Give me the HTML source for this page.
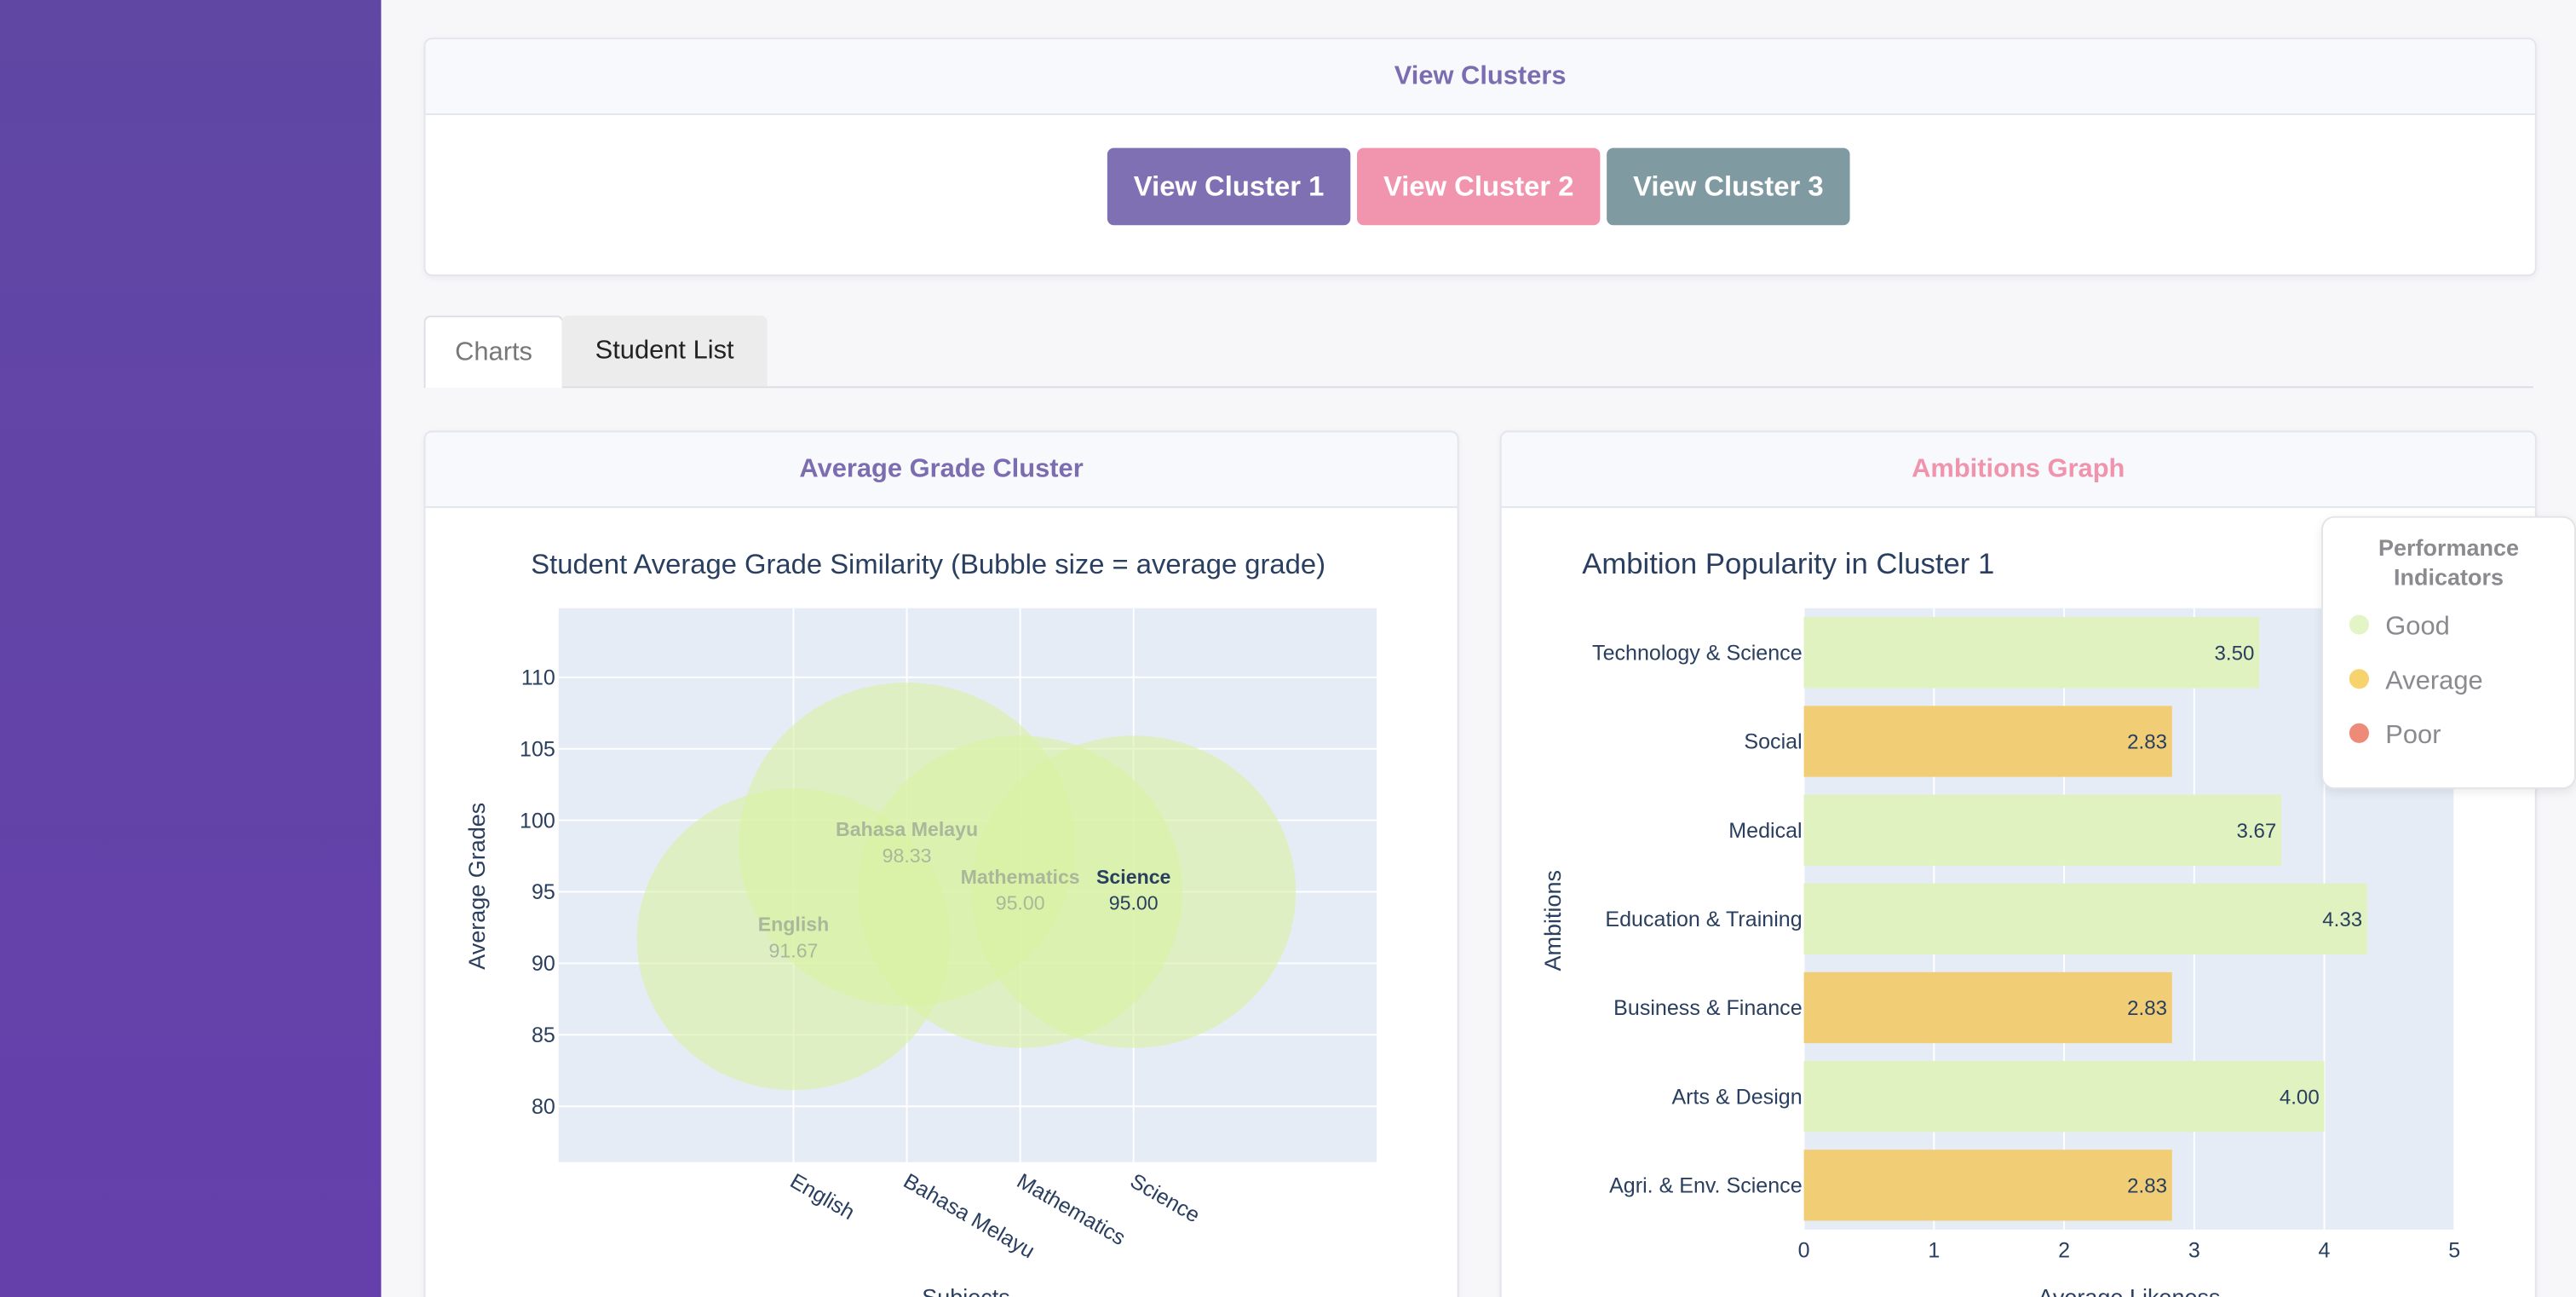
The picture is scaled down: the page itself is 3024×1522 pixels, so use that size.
<!DOCTYPE html>
<html><head><meta charset="utf-8">
<style>
html,body{margin:0;padding:0;}
body{width:3024px;height:1522px;overflow:hidden;background:#f6f6f8;font-family:"Liberation Sans",sans-serif;}
#root{position:absolute;left:0;top:0;width:1568px;height:789px;transform:scale(1.928571,1.929024);transform-origin:0 0;overflow:hidden;background:#f7f7f9;}
.abs{position:absolute;}
.card{position:absolute;background:#fff;border:1px solid #e3e5ec;border-radius:5px;box-shadow:0 1px 4px rgba(0,0,0,0.05);overflow:hidden;}
.chead{position:absolute;left:0;top:0;right:0;height:45px;background:#f8f9fc;border-bottom:1px solid #e3e5ec;text-align:center;line-height:45px;font-weight:bold;font-size:16px;}
.btn{position:absolute;top:90px;width:148px;height:47px;border-radius:4px;color:#fff;font-size:17px;font-weight:bold;text-align:center;line-height:47px;}
svg text{font-family:"Liberation Sans",sans-serif;}
</style></head>
<body>
<div id="root">
 <div class="abs" style="left:0;top:0;width:232px;height:789px;background:linear-gradient(180deg,#6047a4,#6540ab);"></div>

 <div class="card" style="left:258px;top:23px;width:1284px;height:143px;">
  <div class="chead" style="color:#7b6db0;">View Clusters</div>
 </div>
 <div class="btn" style="left:674px;background:#7f6fb3;">View Cluster 1</div>
 <div class="btn" style="left:826px;background:#f195af;">View Cluster 2</div>
 <div class="btn" style="left:978px;background:#7f9aa1;">View Cluster 3</div>

 <div class="abs" style="left:258px;top:235px;width:1284px;height:1px;background:#dcdde2;"></div>
 <div class="abs" style="left:258px;top:192px;width:83px;height:43px;background:#fff;border:1px solid #dcdde2;border-bottom:none;border-radius:4px 4px 0 0;text-align:center;line-height:43px;font-size:16px;color:#777;">Charts</div>
 <div class="abs" style="left:342px;top:192px;width:125px;height:43px;background:#ececed;border-radius:4px 4px 0 0;text-align:center;line-height:43px;font-size:16px;color:#222;">Student List</div>

 <div class="card" style="left:258px;top:262px;width:628px;height:540px;">
  <div class="chead" style="color:#7b6db0;">Average Grade Cluster</div>
 </div>
 <div class="card" style="left:913px;top:262px;width:629px;height:540px;">
  <div class="chead" style="color:#f093ac;">Ambitions Graph</div>
 </div>

 <svg class="abs" style="left:0;top:0" width="1568" height="789" id="charts">
  <g id="bubble"></g>
  <g id="bars"></g>
 </svg>

 <div class="abs" style="left:1413px;top:314px;width:153px;height:164px;background:#fff;border:1px solid #e4e4e8;border-radius:8px;box-shadow:0 2px 6px rgba(0,0,0,0.08);">
  <div style="position:absolute;left:0;width:153px;top:9px;text-align:center;font-weight:bold;font-size:14px;color:#8a8a8f;line-height:18px;">Performance<br>Indicators</div>
  <div style="position:absolute;left:16px;top:57px;font-size:16px;color:#8a8a8f;line-height:20px;"><span style="display:inline-block;width:12px;height:12px;border-radius:6px;background:#e3f5c6;margin-right:10px;"></span>Good</div>
  <div style="position:absolute;left:16px;top:90px;font-size:16px;color:#8a8a8f;line-height:20px;"><span style="display:inline-block;width:12px;height:12px;border-radius:6px;background:#f7d36e;margin-right:10px;"></span>Average</div>
  <div style="position:absolute;left:16px;top:123px;font-size:16px;color:#8a8a8f;line-height:20px;"><span style="display:inline-block;width:12px;height:12px;border-radius:6px;background:#ee8a78;margin-right:10px;"></span>Poor</div>
 </div>
</div>

<script>
const subjects = ["English","Bahasa Melayu","Mathematics","Science"];
const grades = [91.67, 98.33, 95.00, 95.00];
const gradeTicks = [80,85,90,95,100,105,110];

const ambitions = ["Technology & Science","Social","Medical","Education & Training","Business & Finance","Arts & Design","Agri. & Env. Science"];
const likeness = [3.50, 2.83, 3.67, 4.33, 2.83, 4.00, 2.83];
const indicator = ["Good","Average","Good","Good","Average","Good","Average"];
const likeTicks = [0,1,2,3,4,5];

const NS="http://www.w3.org/2000/svg";
function mk(parent, tag, attrs, text){
  const e=document.createElementNS(NS,tag);
  for(const k in attrs) e.setAttribute(k,attrs[k]);
  if(text!==undefined) e.textContent=text;
  parent.appendChild(e); return e;
}
const ink="#2a3f5f";

// ---------- Bubble chart ----------
const bg=document.getElementById("bubble");
const B={l:340,r:838,t:370,b:707};
const yB=v=>673-(v-80)*8.7;
const xB=i=>483+i*69;
let e=mk(bg,"rect",{x:B.l,y:B.t,width:B.r-B.l,height:B.b-B.t,fill:"#e5ecf6"});


gradeTicks.forEach(t=>{
  let g=mk(bg,"line",{x1:B.l,x2:B.r,y1:yB(t),y2:yB(t),stroke:"#fff","stroke-width":1});
  
  
  let tl=mk(bg,"text",{x:B.l-2,y:yB(t)+4.5,"text-anchor":"end","font-size":13,fill:ink},t);
  
  
});
subjects.forEach((s,i)=>{
  let g=mk(bg,"line",{x1:xB(i),x2:xB(i),y1:B.t,y2:B.b,stroke:"#fff","stroke-width":1});
  
  
  let tl=mk(bg,"text",{x:xB(i)-3,y:B.b+14,"font-size":13,fill:ink,transform:`rotate(30 ${xB(i)-3} ${B.b+14})`},s);
  
  
});
const clip=mk(bg,"clipPath",{id:"bclip"});
mk(clip,"rect",{x:B.l,y:B.t,width:B.r-B.l,height:B.b-B.t});
const bub=mk(bg,"g",{"clip-path":"url(#bclip)"});
grades.forEach((v,i)=>{
  let c=mk(bub,"ellipse",{cx:xB(i),cy:yB(v),rx:v*1.04,ry:v*1.0,fill:"#d8f2a4","fill-opacity":0.6});
  
  
});
grades.forEach((v,i)=>{
  let t1=mk(bg,"text",{x:xB(i),y:yB(v)-5,"text-anchor":"middle","font-size":12,"font-weight":"bold",fill:i==3?ink:"#a9b89a"},subjects[i]);
  
  
  let t2=mk(bg,"text",{x:xB(i),y:yB(v)+11,"text-anchor":"middle","font-size":12,fill:i==3?ink:"#a9b89a"},v.toFixed(2));
  
  
});
e=mk(bg,"text",{x:565,y:349,"text-anchor":"middle","font-size":17,fill:ink},"Student Average Grade Similarity (Bubble size = average grade)");


e=mk(bg,"text",{x:295,y:539,"text-anchor":"middle","font-size":14,fill:ink,transform:"rotate(-90 295 539)"},"Average Grades");


e=mk(bg,"text",{x:588,y:794,"text-anchor":"middle","font-size":14,fill:ink},"Subjects");



// ---------- Bar chart ----------
const rg=document.getElementById("bars");
const R={l:1098,r:1494,t:370,b:748};
const xR=v=>R.l+v*(R.r-R.l)/5;
const band=(R.b-R.t)/ambitions.length;
const yR=i=>R.t+band*(i+0.5);
e=mk(rg,"rect",{x:R.l,y:R.t,width:R.r-R.l,height:R.b-R.t,fill:"#e5ecf6"});


likeTicks.forEach(t=>{
  let g=mk(rg,"line",{x1:xR(t),x2:xR(t),y1:R.t,y2:R.b,stroke:"#fff","stroke-width":1});
  
  
  let tl=mk(rg,"text",{x:xR(t),y:R.b+17,"text-anchor":"middle","font-size":13,fill:ink},t);
  
  
});
const colors={Good:"#dff2bf",Average:"#f1ce76",Poor:"#ee8a78"};
ambitions.forEach((a,i)=>{
  const h=band*0.8;
  let r=mk(rg,"rect",{x:R.l,y:yR(i)-h/2,width:xR(likeness[i])-R.l,height:h,fill:colors[indicator[i]]});
  
  
  let v=mk(rg,"text",{x:xR(likeness[i])-3,y:yR(i)+4.5,"text-anchor":"end","font-size":12.5,fill:ink},likeness[i].toFixed(2));
  
  
  let l=mk(rg,"text",{x:R.l-1,y:yR(i)+4.5,"text-anchor":"end","font-size":13,fill:ink},a);
  
  
});
e=mk(rg,"text",{x:963,y:349,"font-size":18,fill:ink},"Ambition Popularity in Cluster 1");


e=mk(rg,"text",{x:950,y:560,"text-anchor":"middle","font-size":14,fill:ink,transform:"rotate(-90 950 560)"},"Ambitions");


e=mk(rg,"text",{x:1296,y:794,"text-anchor":"middle","font-size":14,fill:ink},"Average Likeness");


</script>
</body></html>
